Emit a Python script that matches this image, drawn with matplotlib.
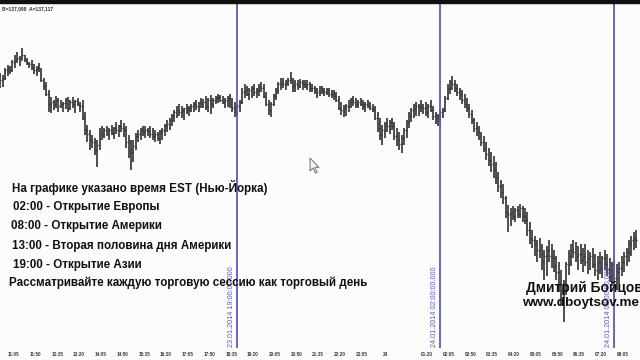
import matplotlib
matplotlib.use("Agg")
import matplotlib.pyplot as plt
from matplotlib.patches import Rectangle, Polygon

# ---- data (5-minute bars, 23.01.2014 10:50 EST onwards) ----
bar_start_minute = 650          # minutes from 23.01.2014 00:00
bar_step_minutes = 5
first_open = 138.74

highs = [
    138.77, 138.75, 138.82, 138.85, 138.84, 138.90, 138.95, 138.98, 138.94, 139.02,
    138.95, 138.92, 138.88, 138.90, 138.86, 138.84, 138.87, 138.82, 138.72, 138.68,
    138.60, 138.53, 138.50, 138.54, 138.52, 138.50, 138.48, 138.52, 138.53, 138.50,
    138.53, 138.50, 138.52, 138.48, 138.50, 138.38, 138.25, 138.20, 138.15, 138.12,
    138.10, 138.22, 138.24, 138.22, 138.24, 138.22, 138.25, 138.23, 138.28, 138.25,
    138.30, 138.27, 138.24, 138.15, 138.10, 138.10, 138.17, 138.20, 138.22, 138.24,
    138.24, 138.22, 138.24, 138.22, 138.20, 138.18, 138.20, 138.22, 138.26, 138.30,
    138.32, 138.36, 138.40, 138.44, 138.46, 138.44, 138.42, 138.46, 138.44, 138.46,
    138.48, 138.50, 138.48, 138.52, 138.51, 138.54, 138.52, 138.55, 138.52, 138.54,
    138.56, 138.55, 138.54, 138.52, 138.54, 138.56, 138.52, 138.48, 138.46, 138.50,
    138.62, 138.66, 138.64, 138.62, 138.64, 138.66, 138.62, 138.66, 138.68, 138.66,
    138.58, 138.50, 138.48, 138.56, 138.62, 138.68, 138.72, 138.72, 138.70, 138.72,
    138.78, 138.72, 138.70, 138.70, 138.71, 138.70, 138.70, 138.70, 138.68, 138.66,
    138.64, 138.62, 138.64, 138.64, 138.62, 138.62, 138.62, 138.60, 138.60, 138.58,
    138.54, 138.48, 138.45, 138.46, 138.50, 138.52, 138.54, 138.52, 138.50, 138.52,
    138.50, 138.48, 138.50, 138.48, 138.46, 138.44, 138.38, 138.32, 138.25, 138.28,
    138.32, 138.30, 138.32, 138.28, 138.22, 138.18, 138.15, 138.22, 138.30, 138.38,
    138.42, 138.46, 138.48, 138.46, 138.50, 138.46, 138.48, 138.46, 138.50, 138.44,
    138.38, 138.36, 138.40, 138.42, 138.54, 138.66, 138.70, 138.74, 138.70, 138.66,
    138.62, 138.60, 138.56, 138.52, 138.46, 138.40, 138.32, 138.28, 138.24, 138.18,
    138.14, 138.08, 138.02, 137.98, 137.94, 137.88, 137.78, 137.70, 137.66, 137.54,
    137.45, 137.42, 137.44, 137.42, 137.44, 137.46, 137.44, 137.42, 137.38, 137.28,
    137.20, 137.14, 137.10, 137.12, 137.06, 137.00, 137.04, 137.10, 137.06, 137.00,
    136.94, 136.88, 136.80, 136.70, 136.88, 137.00, 137.06, 137.10, 137.08, 137.04,
    137.06, 137.02, 137.06, 137.00, 136.98, 137.02, 136.96, 136.94, 136.98, 136.94,
    137.00, 136.96, 136.92, 136.88, 136.90, 136.86, 136.88, 136.94, 136.98, 137.02,
    137.10, 137.14, 137.18, 137.20,
]

lows = [
    138.62, 138.63, 138.70, 138.74, 138.76, 138.78, 138.82, 138.87, 138.84, 138.90,
    138.88, 138.85, 138.82, 138.80, 138.76, 138.74, 138.78, 138.68, 138.60, 138.54,
    138.38, 138.37, 138.40, 138.42, 138.38, 138.42, 138.38, 138.41, 138.38, 138.40,
    138.42, 138.37, 138.44, 138.38, 138.30, 138.15, 138.08, 138.00, 138.02, 137.95,
    137.83, 138.00, 138.10, 138.12, 138.14, 138.10, 138.15, 138.11, 138.16, 138.13,
    138.18, 138.13, 138.02, 137.92, 137.80, 137.88, 138.00, 138.08, 138.10, 138.14,
    138.12, 138.14, 138.12, 138.10, 138.08, 138.09, 138.06, 138.10, 138.14, 138.18,
    138.20, 138.24, 138.28, 138.32, 138.34, 138.32, 138.30, 138.36, 138.34, 138.38,
    138.38, 138.40, 138.38, 138.42, 138.42, 138.40, 138.38, 138.36, 138.42, 138.46,
    138.47, 138.48, 138.46, 138.42, 138.43, 138.42, 138.38, 138.33, 138.34, 138.38,
    138.46, 138.52, 138.54, 138.50, 138.52, 138.54, 138.52, 138.54, 138.58, 138.52,
    138.44, 138.35, 138.33, 138.44, 138.50, 138.56, 138.60, 138.62, 138.60, 138.64,
    138.66, 138.58, 138.58, 138.60, 138.62, 138.60, 138.62, 138.60, 138.58, 138.58,
    138.56, 138.52, 138.54, 138.56, 138.54, 138.55, 138.53, 138.52, 138.50, 138.48,
    138.40, 138.35, 138.33, 138.34, 138.38, 138.42, 138.44, 138.42, 138.42, 138.44,
    138.40, 138.38, 138.42, 138.40, 138.38, 138.30, 138.18, 138.10, 138.05, 138.12,
    138.18, 138.16, 138.20, 138.10, 138.04, 138.00, 137.97, 138.05, 138.12, 138.22,
    138.28, 138.32, 138.34, 138.34, 138.38, 138.36, 138.34, 138.32, 138.38, 138.30,
    138.26, 138.24, 138.28, 138.32, 138.38, 138.50, 138.56, 138.60, 138.58, 138.54,
    138.50, 138.46, 138.42, 138.38, 138.32, 138.26, 138.18, 138.14, 138.10, 138.04,
    137.98, 137.90, 137.84, 137.78, 137.72, 137.66, 137.58, 137.52, 137.46, 137.32,
    137.18, 137.24, 137.30, 137.28, 137.32, 137.32, 137.28, 137.26, 137.14, 137.06,
    137.02, 136.94, 136.88, 136.92, 136.80, 136.70, 136.74, 136.88, 136.82, 136.78,
    136.70, 136.58, 136.45, 136.28, 136.55, 136.75, 136.84, 136.92, 136.88, 136.80,
    136.86, 136.78, 136.84, 136.76, 136.80, 136.82, 136.74, 136.70, 136.76, 136.72,
    136.80, 136.74, 136.68, 136.64, 136.68, 136.60, 136.66, 136.74, 136.78, 136.84,
    136.88, 136.94, 137.00, 137.02,
]

closes = [
    138.70, 138.72, 138.80, 138.82, 138.80, 138.88, 138.90, 138.92, 138.90, 138.95,
    138.90, 138.87, 138.86, 138.83, 138.80, 138.82, 138.80, 138.70, 138.64, 138.56,
    138.46, 138.48, 138.46, 138.50, 138.44, 138.46, 138.47, 138.50, 138.42, 138.48,
    138.46, 138.49, 138.46, 138.44, 138.32, 138.20, 138.16, 138.10, 138.08, 138.00,
    138.05, 138.18, 138.16, 138.20, 138.18, 138.20, 138.17, 138.22, 138.20, 138.24,
    138.22, 138.20, 138.08, 138.00, 137.98, 138.04, 138.14, 138.16, 138.20, 138.18,
    138.20, 138.19, 138.16, 138.14, 138.16, 138.12, 138.18, 138.20, 138.24, 138.26,
    138.30, 138.34, 138.38, 138.40, 138.38, 138.40, 138.42, 138.40, 138.42, 138.44,
    138.46, 138.44, 138.48, 138.46, 138.48, 138.44, 138.50, 138.46, 138.50, 138.52,
    138.53, 138.50, 138.48, 138.50, 138.52, 138.46, 138.42, 138.38, 138.44, 138.48,
    138.58, 138.60, 138.56, 138.60, 138.62, 138.58, 138.60, 138.64, 138.62, 138.54,
    138.46, 138.40, 138.46, 138.54, 138.60, 138.66, 138.68, 138.66, 138.68, 138.70,
    138.68, 138.64, 138.66, 138.64, 138.68, 138.66, 138.64, 138.66, 138.62, 138.62,
    138.60, 138.58, 138.62, 138.60, 138.58, 138.60, 138.56, 138.56, 138.54, 138.50,
    138.42, 138.40, 138.42, 138.44, 138.48, 138.50, 138.48, 138.46, 138.48, 138.46,
    138.44, 138.46, 138.44, 138.42, 138.40, 138.32, 138.22, 138.15, 138.20, 138.26,
    138.24, 138.28, 138.24, 138.14, 138.10, 138.06, 138.12, 138.20, 138.28, 138.34,
    138.40, 138.42, 138.44, 138.42, 138.44, 138.42, 138.38, 138.44, 138.40, 138.34,
    138.32, 138.34, 138.38, 138.40, 138.52, 138.62, 138.68, 138.66, 138.62, 138.58,
    138.56, 138.50, 138.46, 138.42, 138.36, 138.30, 138.22, 138.18, 138.14, 138.08,
    138.02, 137.96, 137.90, 137.86, 137.80, 137.72, 137.64, 137.58, 137.52, 137.38,
    137.36, 137.38, 137.34, 137.40, 137.36, 137.42, 137.34, 137.30, 137.20, 137.12,
    137.10, 137.06, 137.00, 136.96, 136.88, 136.94, 137.00, 136.94, 136.92, 136.84,
    136.78, 136.66, 136.60, 136.66, 136.86, 136.94, 137.00, 136.98, 136.94, 136.96,
    136.90, 136.94, 136.88, 136.92, 136.94, 136.86, 136.80, 136.88, 136.82, 136.92,
    136.86, 136.80, 136.74, 136.80, 136.72, 136.78, 136.82, 136.88, 136.94, 136.98,
    137.06, 137.10, 137.12, 137.10,
]

tick_minutes = [620, 665, 710, 755, 800, 845, 890, 935, 980, 1025, 1070, 1115,
                1160, 1205, 1250, 1295, 1340, 1385, 1440, 1520, 1565, 1610, 1655,
                1700, 1745, 1790, 1835, 1880, 1925]
tick_labels = ["10:20", "11:05", "11:50", "12:35", "13:20", "14:05", "14:50",
               "15:35", "16:20", "17:05", "17:50", "18:35", "19:20", "20:05",
               "20:50", "21:35", "22:20", "23:05", "24", "01:20", "02:05",
               "02:50", "03:35", "04:20", "05:05", "05:50", "06:35", "07:20",
               "08:05"]

session_minutes = [1140, 1560, 1920]
session_labels = ["23.01.2014 19:00:00.000", "24.01.2014 02:00:00.000",
                  "24.01.2014 08:00:00.000"]

quote_text = "B=137,098  A=137,117"
notes = [
    "На графике указано время EST (Нью-Йорка)",
    "02:00 - Открытие Европы",
    "08:00 - Открытие Америки",
    "13:00 - Вторая половина дня Америки",
    "19:00 - Открытие Азии",
    "Рассматривайте каждую торговую сессию как торговый день",
]
author_lines = ["Дмитрий Бойцов", "www.dboytsov.me"]

# ---- figure ----
W, H = 640, 360
fig = plt.figure(figsize=(6.4, 3.6), dpi=100)
bg = "#fcfcfc"
fig.patch.set_facecolor(bg)
ax = fig.add_axes([0, (H - 348) / H, 1, (348 - 3) / H])
ax.set_facecolor(bg)
for s in ax.spines.values():
    s.set_visible(False)

times = [bar_start_minute + bar_step_minutes * i for i in range(len(highs))]
opens = [first_open] + closes[:-1]
bar_col = "#303030"
half = 2.0
ax.vlines(times, lows, highs, color=bar_col, lw=1.2, zorder=3)
ax.hlines(opens, [t - half for t in times], times, color=bar_col, lw=1.0, zorder=3)
ax.hlines(closes, times, [t + half for t in times], color=bar_col, lw=1.0, zorder=3)

ax.set_yticks([])
ax.set_xticks(tick_minutes)
ax.set_xticklabels(tick_labels, fontsize=3.3, color="#3a3a3a",
                   family="Liberation Sans", fontweight="bold")
for lab in ax.get_xticklabels():
    lab.set_horizontalalignment("left")
ax.tick_params(axis="x", length=0, pad=3.2)
# limits after ticks (set_xticks would widen the view otherwise)
ax.set_xlim(649.2, 1972.8)
ax.set_ylim(136.02, 139.47)

line_col = "#5a5ac0"
for t, lab in zip(session_minutes, session_labels):
    ax.axvline(t, color=line_col, lw=1.3, zorder=4)
    ax.annotate(lab, xy=(t, 0), xycoords=("data", "axes fraction"),
                xytext=(-1.5, 0.5), textcoords="offset points", rotation=90,
                ha="right", va="bottom", fontsize=5.2, color=line_col,
                family="Liberation Sans", zorder=5)

# top black bar
fig.patches.append(Rectangle((0, 1 - 3 / H), 1, 3 / H, transform=fig.transFigure,
                             color="#111111", zorder=10))

# mouse cursor (decoration)
cx, cy = 310, 158
cur = [(0, 0), (0, 13), (3, 10), (5.5, 15), (7.2, 14.2), (4.8, 9.4), (9, 9.4)]
fig.patches.append(Polygon([((cx + px) / W, 1 - (cy + py) / H) for px, py in cur],
                           closed=True, transform=fig.transFigure,
                           facecolor="#f4f4f4", edgecolor="#808080", lw=0.8,
                           zorder=15))

def ftext(x, y, s, **kw):
    fig.text(x / W, 1 - y / H, s, **kw)

ftext(2, 9, quote_text, ha="left", va="center", fontsize=3.6,
      fontweight="bold", color="#333333", family="Liberation Sans")

note_pos = [(12, 187), (13, 207), (11, 226), (12, 246), (13, 265), (9, 283)]
for (x, y), s in zip(note_pos, notes):
    ftext(x, y, s, ha="left", va="center", fontsize=8.4, fontweight="bold",
          color="#111111", family="Liberation Sans", zorder=20)

ftext(526, 288, author_lines[0], ha="left", va="center", fontsize=9.9,
      fontweight="bold", color="#111111", family="Liberation Sans", zorder=20)
ftext(522, 303, author_lines[1], ha="left", va="center", fontsize=9.7,
      fontweight="bold", color="#111111", family="Liberation Sans", zorder=20)

fig.savefig("out.png", dpi=100, facecolor=bg)
